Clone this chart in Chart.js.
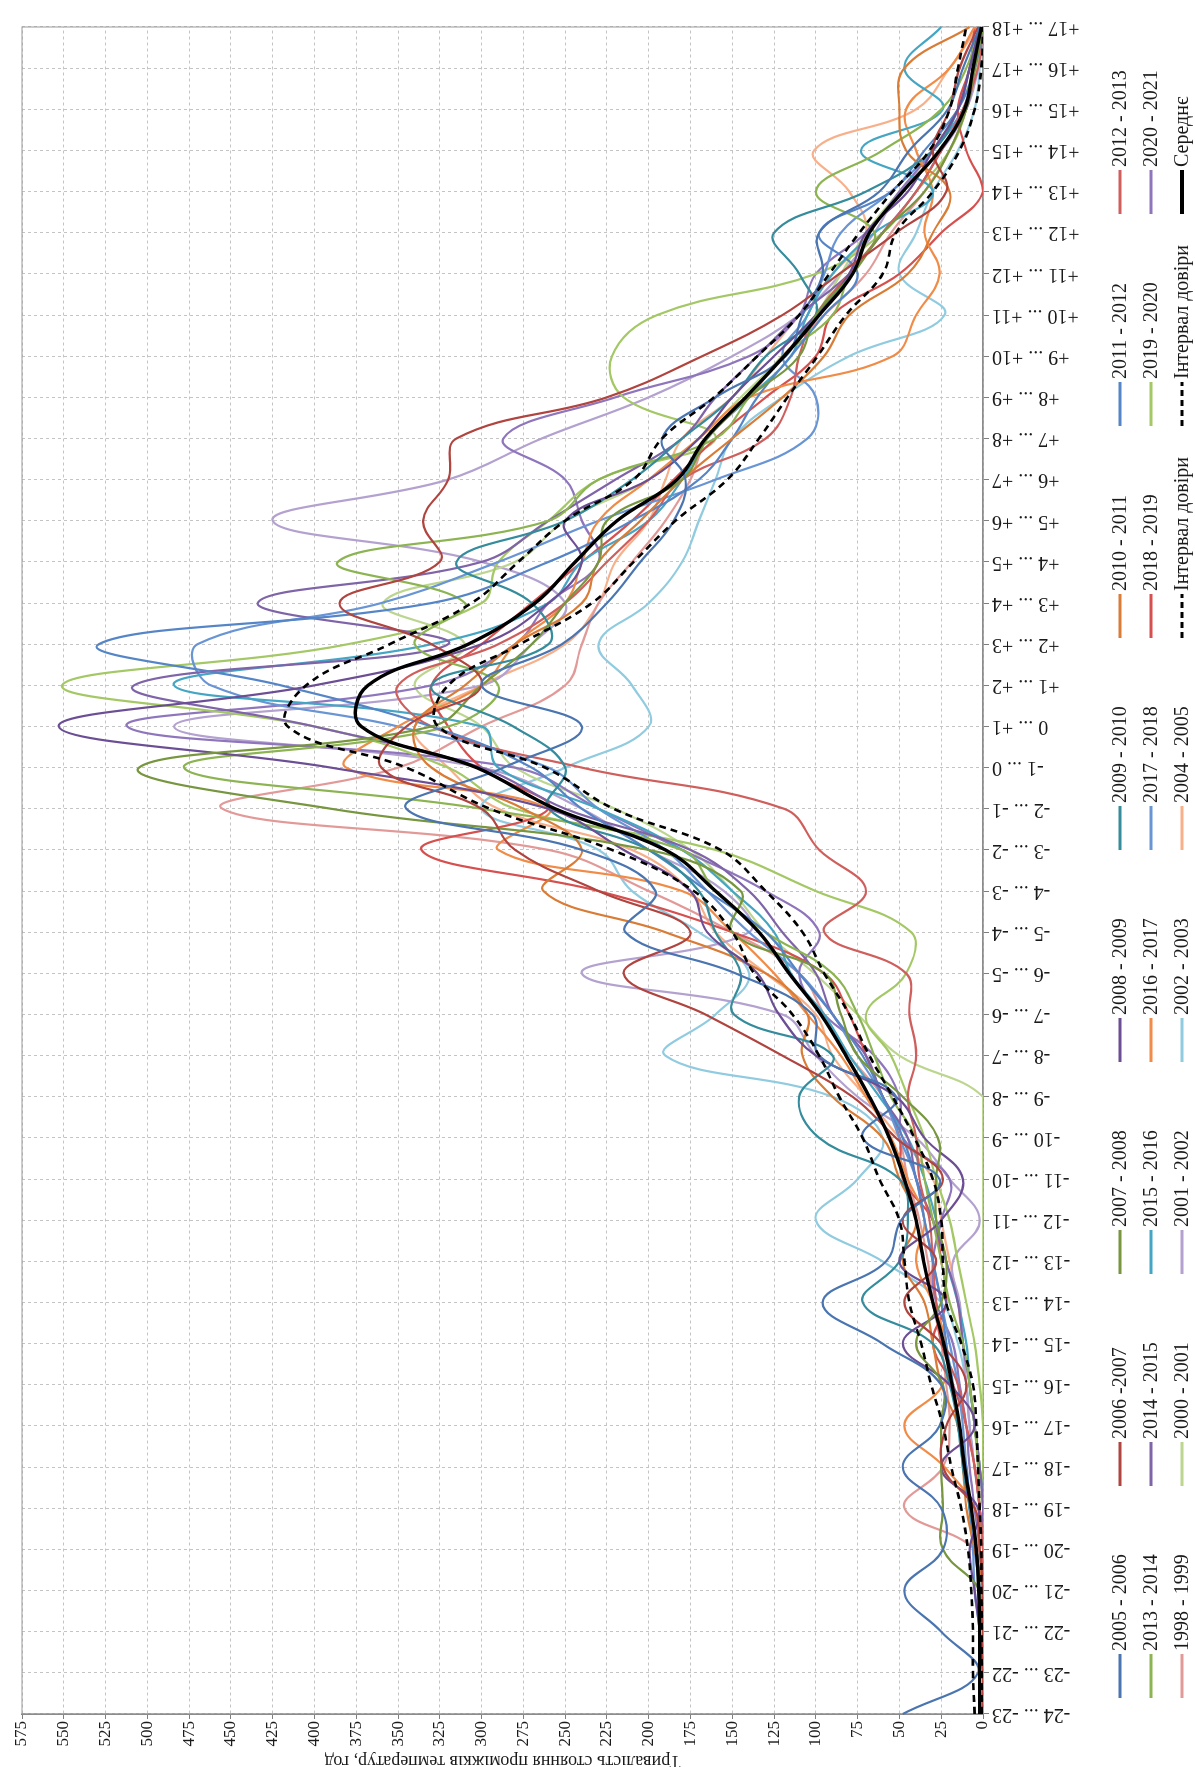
<!DOCTYPE html>
<html lang="uk">
<head>
<meta charset="utf-8">
<title>Тривалість стояння проміжків температур</title>
<script src="https://cdn.jsdelivr.net/npm/chart.js@4.4.1/dist/chart.umd.min.js"></script>
<style>
  html, body { margin: 0; padding: 0; background: #fff; width: 1195px; height: 1767px; overflow: hidden; }
  /* the chart is laid out landscape and turned a quarter turn counter-clockwise */
  #turn { position: absolute; left: 0; top: 0; width: 1767px; height: 1195px;
          transform-origin: 0 0; transform: translate(0, 1767px) rotate(-90deg); }
  canvas { display: block; }
</style>
</head>
<body>
<div id="turn"><canvas id="chart" width="1767" height="1195"></canvas></div>
<script>
// Temperature intervals, °C
const categories = [
  "-24 ... -23", "-23 ... -22", "-22 ... -21", "-21 ... -20", "-20 ... -19", "-19 ... -18",
  "-18 ... -17", "-17 ... -16", "-16 ... -15", "-15 ... -14", "-14 ... -13", "-13 ... -12",
  "-12 ... -11", "-11 ... -10", "-10 ... -9", "-9 ... -8", "-8 ... -7", "-7 ... -6",
  "-6 ... -5", "-5 ... -4", "-4 ... -3", "-3 ... -2", "-2 ... -1", "-1 ... 0",
  "0 ... +1", "+1 ... +2", "+2 ... +3", "+3 ... +4", "+4 ... +5", "+5 ... +6",
  "+6 ... +7", "+7 ... +8", "+8 ... +9", "+9 ... +10", "+10 ... +11", "+11 ... +12",
  "+12 ... +13", "+13 ... +14", "+14 ... +15", "+15 ... +16", "+16 ... +17", "+17 ... +18"
];

// Hours per interval, one array per heating season
const s2005 = [48,3,25,47,24,25, 48,26,25,60,96,58, 49,26,72,52,98,102, 148,214,196,240,345,287, 240,300,252,225,205,185, 178,192,160,118,108,96, 98,62,44,21,12,2];
const s2006 = [0,0,0,0,2,5, 24,22,10,25,47,28, 48,24,52,78,120,166, 215,175,230,280,300,360, 345,300,330,385,325,335, 320,315,225,168,120,86, 52,22,30,20,14,3];
const s2007 = [0,0,0,2,24,24, 25,25,24,40,25,22, 28,28,27,48,75,85, 95,150,145,200,390,505, 330,300,270,250,230,225, 180,165,140,110,100,78, 60,35,20,10,5,0];
const s2008 = [0,0,2,5,8,3, 25,5,20,48,22,50, 25,12,35,52,100,122, 135,165,175,215,260,390, 553,400,300,260,240,250, 200,170,150,125,100,80, 70,45,30,15,8,2];
const s2009 = [0,0,0,2,4,8, 12,15,20,30,72,50, 45,50,98,110,90,149, 145,160,170,200,260,250, 281,330,260,270,315,250, 210,180,150,130,100,110, 125,70,30,15,8,2];
const s2010 = [0,0,0,0,5,10, 12,15,25,30,35,48, 40,50,60,90,108,105, 130,190,263,240,275,330, 340,310,280,240,230,205, 180,150,120,95,80,45, 30,20,46,50,47,8];
const s2011 = [0,0,0,2,5,8, 10,15,18,22,25,30, 35,40,48,60,72,90, 110,130,165,200,240,270, 330,420,529,330,260,210, 170,150,135,115,95,75, 98,55,35,15,5,0];
const s2012 = [0,0,0,0,0,2, 5,10,15,25,28,30, 32,38,40,45,40,44, 46,95,70,98,119,240, 330,350,290,250,225,200, 180,130,115,110,100,80, 60,40,25,12,3,0];
const s2013 = [0,0,0,0,0,2, 3,5,8,12,20,25, 30,35,40,55,65,75, 90,130,160,180,300,478, 320,290,340,310,386,260, 230,160,140,120,90,80, 65,100,60,25,10,2];
const s2014 = [0,0,0,0,0,0, 2,5,8,12,15,22, 30,40,45,60,70,90, 100,120,140,175,250,300, 400,508,320,434,300,260, 220,180,160,135,110,80, 60,40,25,10,5,0];
const s2015 = [0,0,0,0,0,0, 2,5,8,10,15,22, 28,35,45,62,80,95, 115,125,150,180,230,290, 300,484,330,260,240,200, 180,165,140,115,105,90, 65,30,73,24,47,25];
const s2016 = [0,2,0,0,2,5, 23,47,24,22,30,40, 35,45,55,70,85,105, 125,150,180,290,260,381, 350,300,280,250,240,230, 200,170,140,54,40,26, 35,30,40,46,20,5];
const s2017 = [0,0,2,5,6,8, 10,12,15,20,25,30, 35,40,50,60,75,90, 110,140,165,190,230,260, 350,462,470,360,290,230, 160,105,100,120,105,95, 85,55,30,12,5,0];
const s2018 = [0,0,0,0,0,2, 5,10,18,30,22,25, 30,48,50,60,70,80, 95,150,230,336,260,300, 320,330,300,270,240,210, 185,160,130,100,90,50, 25,0,10,15,8,5];
const s2019 = [0,0,0,0,0,0, 0,0,2,5,10,15, 20,28,35,45,55,70, 46,43,100,160,280,320, 400,551,380,300,290,260, 230,160,215,222,195,100, 60,40,20,10,4,0];
const s2020 = [0,0,0,0,2,5, 8,10,14,18,28,30, 25,20,48,50,65,95, 110,98,130,180,230,280, 512,330,280,260,230,240, 250,287,220,140,110,100, 70,50,30,12,6,1];
const s1998 = [0,0,0,0,5,47, 24,20,22,25,30,33, 38,45,50,60,80,95, 110,150,200,260,455,350, 300,250,240,230,210,190, 175,165,140,120,95,70, 55,35,20,10,5,0];
const s2000 = [0,0,0,0,0,0, 0,0,0,0,0,0, 0,0,0,0,50,75, 101,130,150,175,220,280, 300,340,310,359,280,250, 200,170,145,120,100,85, 70,50,30,15,5,0];
const s2001 = [0,0,0,0,0,2, 5,8,10,12,14,18, 2,20,40,75,100,120, 240,140,155,200,240,300, 484,300,270,250,300,425, 320,264,200,150,110,85, 65,50,25,10,3,0];
const s2002 = [0,0,0,0,0,2, 5,8,10,15,25,60, 100,75,60,90,190,160, 140,170,210,230,300,250, 200,210,230,200,180,170, 160,150,120,80,23,50, 40,30,15,5,2,0];
const s2004 = [0,0,0,0,0,0, 2,5,8,12,15,20, 25,30,50,70,90,100, 130,160,175,210,290,320, 340,300,250,230,220,200, 190,180,150,130,110,90, 70,80,101,40,20,3];

// Average over all seasons and its confidence band
const meanLine = [2,2,2,2.5,4,7, 11,14,18.5,23.5,30,35.5, 40,47,56,68,82,97, 116,134,160,190,256,303, 372,368,308,268,244,219, 183,166,142,119,98,78, 68,48,26,11,6,1];
const ciUpper  = [5,6,6,7,9,13, 19,24,31,37,44,47, 50,62,72,86,98,114, 137,150,173,222,295,345, 416,405,355,306,278,250, 209,192,161,135,110,92, 74,54,32,20,15,10];
const ciLower  = [0.5,0.5,0.5,1,1,2, 3,4,6,13,22,24, 25,30,41,54,68,80, 95,108,130,157,221,262, 326,320,277,234,209,184, 153,134,117,99,82,60, 52,30,14,5,1,0];

// Value axis range
const valueMin = 0;
const valueMax = 575;
const valueStep = 25;

const SERIF = '"Liberation Serif", "Times New Roman", serif';

// Season series in legend order (row by row)
const seasons = [
  { label: '2005 - 2006', data: s2005, color: '#4a75b0' },
  { label: '2006 -2007',  data: s2006, color: '#b0443f' },
  { label: '2007 - 2008', data: s2007, color: '#77963f' },
  { label: '2008 - 2009', data: s2008, color: '#6c4e94' },
  { label: '2009 - 2010', data: s2009, color: '#348c9c' },
  { label: '2010 - 2011', data: s2010, color: '#d97c36' },
  { label: '2011 - 2012', data: s2011, color: '#5585c6' },
  { label: '2012 - 2013', data: s2012, color: '#cf5f5c' },
  { label: '2013 - 2014', data: s2013, color: '#8db452' },
  { label: '2014 - 2015', data: s2014, color: '#7f64a8' },
  { label: '2015 - 2016', data: s2015, color: '#45a6c4' },
  { label: '2016 - 2017', data: s2016, color: '#f08c48' },
  { label: '2017 - 2018', data: s2017, color: '#6a95d4' },
  { label: '2018 - 2019', data: s2018, color: '#d5504e' },
  { label: '2019 - 2020', data: s2019, color: '#a4c865' },
  { label: '2020 - 2021', data: s2020, color: '#8f76bc' },
  { label: '1998 - 1999', data: s1998, color: '#e29a98' },
  { label: '2000 - 2001', data: s2000, color: '#bcd690' },
  { label: '2001 - 2002', data: s2001, color: '#b3a1cf' },
  { label: '2002 - 2003', data: s2002, color: '#90cbe0' },
  { label: '2004 - 2005', data: s2004, color: '#f7b08a' }
];

const datasets = seasons.map(s => ({
  label: s.label, data: s.data, borderColor: s.color, backgroundColor: s.color,
  borderWidth: 2.2, pointRadius: 0, tension: 0.4, fill: false, order: 0
}));
datasets.push(
  { label: 'Інтервал довіри', data: ciUpper, borderColor: '#000', backgroundColor: '#000',
    borderWidth: 2.6, borderDash: [7, 5], pointRadius: 0, tension: 0.4, fill: false, order: -1 },
  { label: 'Інтервал довіри', data: ciLower, borderColor: '#000', backgroundColor: '#000',
    borderWidth: 2.6, borderDash: [7, 5], pointRadius: 0, tension: 0.4, fill: false, order: -1 },
  { label: 'Середнє', data: meanLine, borderColor: '#000', backgroundColor: '#000',
    borderWidth: 3.4, pointRadius: 0, tension: 0.4, fill: false, order: -2 }
);

// Plot frame and the three-row legend under the category labels
const frameAndLegend = {
  id: 'frameAndLegend',
  beforeDatasetsDraw(chart) {
    const a = chart.chartArea, ctx = chart.ctx;
    ctx.save();
    ctx.strokeStyle = '#9a9a9a';
    ctx.lineWidth = 1;
    ctx.strokeRect(a.left, a.top, a.right - a.left, a.bottom - a.top);
    ctx.restore();
  },
  afterDraw(chart) {
    const ctx = chart.ctx;
    const startX = 69, stepX = 212, rowsY = [1120, 1151, 1182], markLen = 44;
    ctx.save();
    ctx.font = '20px ' + SERIF;
    ctx.textBaseline = 'middle';
    ctx.textAlign = 'left';
    chart.data.datasets.forEach((ds, i) => {
      const r = Math.floor(i / 8), c = i % 8;
      const x = startX + stepX * c, y = rowsY[r];
      ctx.beginPath();
      ctx.setLineDash(ds.borderDash ? [6, 4] : []);
      ctx.strokeStyle = ds.borderColor;
      ctx.lineWidth = ds.label === 'Середнє' ? 4 : 3;
      ctx.moveTo(x, y);
      ctx.lineTo(x + markLen, y);
      ctx.stroke();
      ctx.setLineDash([]);
      ctx.fillStyle = '#1a1a1a';
      ctx.fillText(ds.label, x + markLen + 3, y + 1);
    });
    ctx.restore();
  }
};

new Chart(document.getElementById('chart'), {
  type: 'line',
  data: { labels: categories, datasets },
  plugins: [frameAndLegend],
  options: {
    responsive: false,
    maintainAspectRatio: false,
    devicePixelRatio: 1,
    animation: false,
    layout: { padding: { left: 0, right: 9, top: 22, bottom: 95 } },
    plugins: { legend: { display: false }, tooltip: { enabled: false } },
    elements: { line: { capBezierPoints: true } },
    scales: {
      x: {
        type: 'category',
        offset: false,
        afterFit(scale) { scale.height = 117; },
        grid: { color: '#c4c4c4', lineWidth: 1, drawTicks: true, tickLength: 6, tickColor: '#7f7f7f' },
        border: { display: true, color: '#7f7f7f', width: 1.5, dash: [3, 3] },
        ticks: {
          autoSkip: false, minRotation: 90, maxRotation: 90, padding: 3,
          color: '#1a1a1a', font: { family: SERIF, size: 20 }
        }
      },
      y: {
        min: valueMin, max: valueMax,
        afterFit(scale) { scale.width = 53; },
        grid: { color: '#c4c4c4', lineWidth: 1, drawTicks: true, tickLength: 5, tickColor: '#7f7f7f' },
        border: { display: true, color: '#7f7f7f', width: 1.5, dash: [3, 3] },
        ticks: {
          stepSize: valueStep, autoSkip: false, padding: 2,
          color: '#1a1a1a', font: { family: SERIF, size: 17 }
        },
        title: {
          display: true,
          text: 'Тривалість стояння проміжків температур, год',
          color: '#1a1a1a', font: { family: SERIF, size: 18, lineHeight: 0.74 },
          padding: { top: 0, bottom: 0 }
        }
      }
    }
  }
});
</script>
</body>
</html>
